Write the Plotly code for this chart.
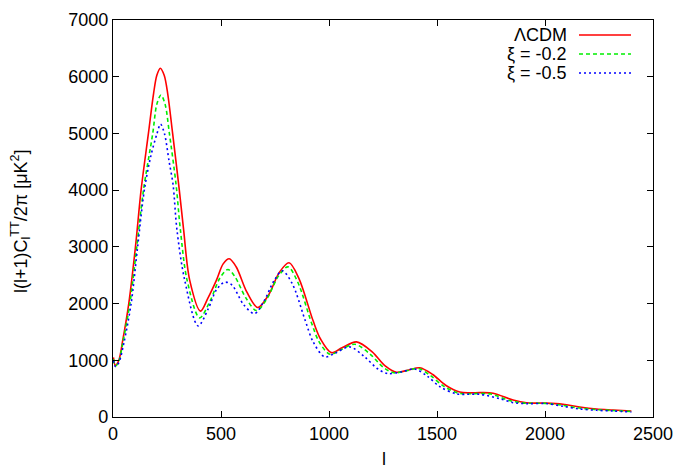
import plotly.graph_objects as go

# ---- data ----
l_lcdm = [2, 11, 27, 45, 73, 104, 130, 164, 188, 203, 219, 237, 253, 276, 307, 327, 355, 405, 440, 479,
          510, 538, 570, 620, 670, 720, 770, 815, 860, 926, 960, 1011, 1060, 1127, 1200, 1260, 1312, 1370,
          1420, 1480, 1540, 1605, 1650, 1700, 1760, 1852, 1914, 2006, 2083, 2160, 2238, 2315, 2400]
c_lcdm = [1050, 910, 1000, 1350, 2000, 3000, 4000, 5000, 5708, 6025, 6150, 6025, 5708, 5000, 4000, 3300,
          2413, 1866, 2100, 2413, 2700, 2790, 2650, 2200, 1930, 2150, 2550, 2720, 2450, 1700, 1380, 1135,
          1220, 1325, 1150, 900, 790, 830, 868, 750, 560, 440, 425, 430, 420, 300, 250, 245, 225, 177, 141,
          124, 106]

l_xi02 = [2, 11, 27, 45, 78, 110, 141, 184, 203, 222, 241, 261, 292, 312, 343, 401, 450, 495, 532, 565,
          615, 665, 715, 765, 810, 855, 920, 955, 1005, 1055, 1120, 1190, 1250, 1300, 1360, 1413, 1470,
          1530, 1598, 1650, 1700, 1750, 1840, 1905, 2000, 2075, 2150, 2230, 2310, 2400]
c_xi02 = [1020, 895, 980, 1300, 2000, 3000, 4000, 5000, 5517, 5678, 5517, 5000, 4100, 3300, 2413, 1748,
          2050, 2450, 2600, 2470, 2100, 1875, 2100, 2480, 2647, 2380, 1650, 1320, 1105, 1185, 1283, 1110,
          880, 780, 815, 857, 730, 545, 422, 410, 415, 405, 285, 245, 240, 210, 162, 132, 115, 98]

l_xi05 = [2, 11, 27, 50, 84, 114, 145, 175, 204, 220, 238, 260, 278, 296, 332, 394, 440, 480, 517, 550,
          605, 655, 700, 745, 784, 830, 890, 926, 980, 1030, 1096, 1165, 1225, 1273, 1340, 1397, 1455,
          1515, 1590, 1640, 1698, 1790, 1852, 1920, 2006, 2083, 2160, 2240, 2315, 2400]
c_xi05 = [1000, 890, 960, 1300, 2000, 3000, 4000, 4600, 5000, 5165, 5000, 4500, 4100, 3300, 2413, 1606,
          1900, 2250, 2377, 2330, 1980, 1824, 2050, 2400, 2577, 2350, 1700, 1330, 1060, 1130, 1236, 1060,
          850, 766, 800, 847, 720, 530, 408, 400, 400, 324, 254, 235, 237, 189, 141, 118, 106, 88]

x_ticks = [0, 500, 1000, 1500, 2000, 2500]
y_ticks = [0, 1000, 2000, 3000, 4000, 5000, 6000, 7000]

series = [
    ("\u039bCDM", l_lcdm, c_lcdm, "#ff0000", "solid"),
    ("\u03be = -0.2", l_xi02, c_xi02, "#00ee00", "4px,3px"),
    ("\u03be = -0.5", l_xi05, c_xi05, "#0000ff", "2px,3px"),
]

FONT = "Liberation Sans, Arial, sans-serif"

fig = go.Figure()
for name, xs, ys, col, dash in series:
    fig.add_trace(go.Scatter(x=xs, y=ys, mode="lines", name=name,
                             line=dict(color=col, width=1.6, dash=dash, shape="spline", smoothing=0.9),
                             showlegend=False))

# page body has an 8px margin; compensate so the plot lands where the reference has it
OFF = 8
W, H = 683, 462
ml, mr, mt, mb = 105, 38, 12, 53
PW, PH = W - ml - mr, H - mt - mb


def px(x_img):
    return (x_img - OFF - ml) / PW


def py(y_img):
    return 1 - (y_img - OFF - mt) / PH


# custom gnuplot-style legend (text right-aligned, sample to the right)
leg_y = [35, 54, 73]
for (name, xs, ys, col, dash), yy in zip(series, leg_y):
    fig.add_annotation(xref="paper", yref="paper", x=px(569), y=py(yy),
                       text=name, showarrow=False, xanchor="right", yanchor="middle",
                       font=dict(family=FONT, size=18, color="black"))
    fig.add_shape(type="line", xref="paper", yref="paper",
                  x0=px(579), x1=px(631), y0=py(yy), y1=py(yy),
                  line=dict(color=col, width=1.6, dash=dash))

# axis titles
fig.add_annotation(xref="paper", yref="paper", x=px(384), y=py(459), text="l", showarrow=False,
                   xanchor="center", yanchor="middle", font=dict(family=FONT, size=18, color="black"))
fig.add_annotation(xref="paper", yref="paper", x=px(20), y=py(221),
                   text="l(l+1)C<sub>l</sub><sup>TT</sup>/2\u03c0 [\u03bcK<sup>2</sup>]",
                   textangle=-90, showarrow=False, xanchor="center", yanchor="middle",
                   font=dict(family=FONT, size=18, color="black"))

axis_common = dict(showgrid=False, zeroline=False, showline=True, linecolor="black", linewidth=1.2,
                   mirror="ticks", ticks="inside", ticklen=6, tickcolor="black", automargin=False,
                   tickfont=dict(family=FONT, size=18, color="black"))

fig.update_layout(
    width=W, height=H,
    margin=dict(l=ml, r=mr, t=mt, b=mb),
    plot_bgcolor="white", paper_bgcolor="white",
    xaxis=dict(range=[0, 2500], tickvals=x_ticks, **axis_common),
    yaxis=dict(range=[0, 7000], tickvals=y_ticks, **axis_common),
)

fig.write_html("out.html")
